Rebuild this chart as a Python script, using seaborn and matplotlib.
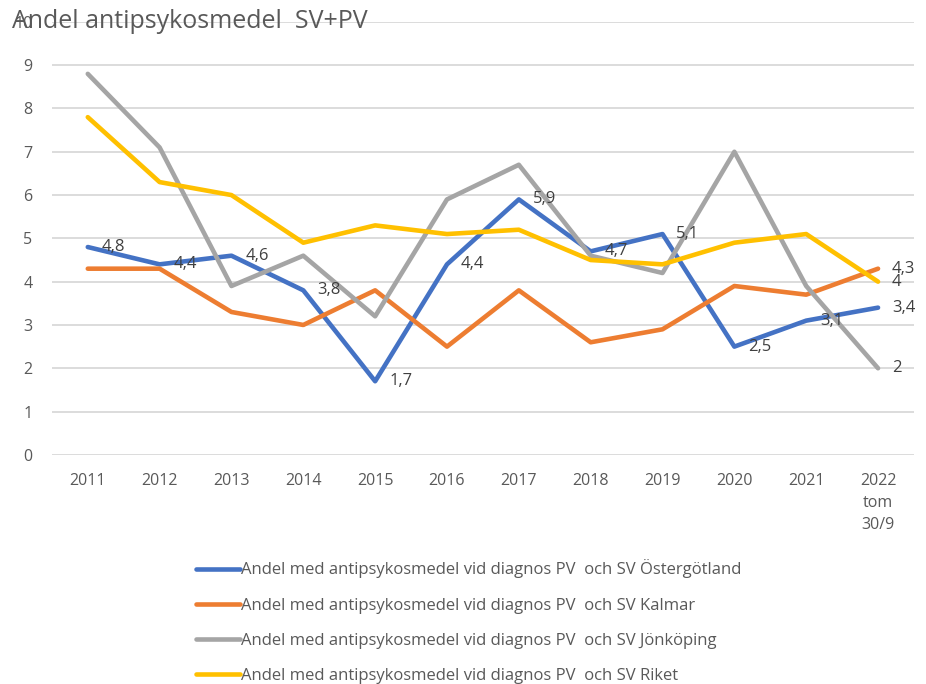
import pandas as pd
import matplotlib.pyplot as plt
import seaborn as sns

years = ['2011', '2012', '2013', '2014', '2015', '2016', '2017', '2018',
         '2019', '2020', '2021', '2022\ntom\n30/9']
ostergotland = [4.8, 4.4, 4.6, 3.8, 1.7, 4.4, 5.9, 4.7, 5.1, 2.5, 3.1, 3.4]
kalmar = [4.3, 4.3, 3.3, 3.0, 3.8, 2.5, 3.8, 2.6, 2.9, 3.9, 3.7, 4.3]
jonkoping = [8.8, 7.1, 3.9, 4.6, 3.2, 5.9, 6.7, 4.6, 4.2, 7.0, 3.9, 2.0]
riket = [7.8, 6.3, 6.0, 4.9, 5.3, 5.1, 5.2, 4.5, 4.4, 4.9, 5.1, 4.0]

prefix = 'Andel med antipsykosmedel vid diagnos PV  och SV '
series = {prefix + 'Östergötland': ostergotland,
          prefix + 'Kalmar': kalmar,
          prefix + 'Jönköping': jonkoping,
          prefix + 'Riket': riket}
colors = ['#4472C4', '#ED7D31', '#A5A5A5', '#FFC000']

rows = []
for name, vals in series.items():
    for i, v in enumerate(vals):
        rows.append({'x': i, 'value': v, 'serie': name})
df = pd.DataFrame(rows)

sns.set_style("white")
plt.rcParams['font.family'] = ['Open Sans', 'DejaVu Sans']

fig = plt.figure(figsize=(9.26, 6.84), dpi=100)
ax = fig.add_axes([0.056, 0.335, 0.931, 0.633])

sns.lineplot(data=df, x='x', y='value', hue='serie', palette=colors,
             linewidth=3.3, ax=ax, legend=False, sort=False)

# data labels: all of Östergötland, only the last point of the others
def label(vals, idx):
    for i in idx:
        txt = ('%g' % vals[i]).replace('.', ',')
        ax.annotate(txt, (i, vals[i]), xytext=(10, 0), textcoords='offset points',
                    ha='left', va='center', fontsize=12, color='#404040')

label(ostergotland, range(len(ostergotland)))
label(kalmar, [11])
label(jonkoping, [11])
label(riket, [11])

ax.set_xlim(-0.5, 11.5)
ax.set_ylim(0, 10)
ax.set_xticks(range(len(years)))
ax.set_xticklabels(years, va='top', linespacing=1.5)
ax.set_yticks(range(0, 11))
ax.tick_params(axis='both', labelsize=11.5, colors='#595959', length=0)
ax.tick_params(axis='x', pad=13)
ax.tick_params(axis='y', pad=14)
ax.set_xlabel('')
ax.set_ylabel('')
ax.yaxis.grid(True, color='#D9D9D9', linewidth=1.3)
ax.set_axisbelow(True)
for s in ax.spines.values():
    s.set_visible(False)

fig.text(0.013, 0.968, 'Andel antipsykosmedel  SV+PV', fontsize=18,
         color='#595959', va='center', ha='left')

handles = [plt.Line2D([], [], color=c, linewidth=3.3) for c in colors]
fig.legend(handles, list(series.keys()), loc='upper left',
           bbox_to_anchor=(0.212, 0.182), frameon=False, fontsize=12,
           handlelength=2.6, handletextpad=0.1, labelspacing=1.15,
           labelcolor='#595959', borderaxespad=0, borderpad=0)

plt.savefig('out.png', dpi=100)
